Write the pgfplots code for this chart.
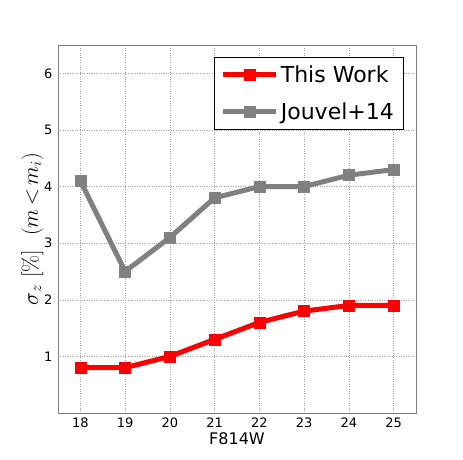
\RequirePackage{fix-cm}
\documentclass[border=0pt]{standalone}
\usepackage{pgfplots}
\pgfplotsset{compat=1.18}
\usepackage[no-math]{fontspec}
\setmainfont{DejaVu Sans}
\definecolor{jgray}{RGB}{128,128,128}

\begin{document}
\begin{tikzpicture}[x=1pt,y=1pt]
\begin{axis}[
    name=ax,
    at={(0,0)}, anchor=south west,
    width=358pt, height=368pt, scale only axis,
    xmin=17.5, xmax=25.5, ymin=0, ymax=6.5,
    xtick={18,...,25}, ytick={1,...,6},
    major tick length=0pt,
    axis line style={jgray, line width=0.9pt},
    grid=major,
    grid style={dotted, gray!75, line width=0.5pt},
    tick label style={font=\fontsize{13}{15}\selectfont, /pgf/number format/assume math mode=true},
    xticklabel style={yshift=-1pt},
    yticklabel style={xshift=-2pt},
    xlabel={F814W},
    xlabel style={font=\fontsize{16}{18}\selectfont, yshift=2pt},
    ylabel={$\sigma_z\ [\%]\ \ (m\,{<}\,m_i)$},
    ylabel style={font=\fontsize{22}{26}\selectfont, yshift=-6pt},
    legend style={at={(0.964,0.967)}, anchor=north east, draw=black, line width=0.6pt,
        font=\fontsize{22}{26}\selectfont, row sep=15pt, inner xsep=7pt, inner ysep=6pt,
        /tikz/every even column/.append style={column sep=18pt}},
    legend cell align=left,
    legend image code/.code={
        \draw[#1, mark repeat=2, mark phase=2] plot coordinates {(0pt,0pt) (26pt,0pt) (53pt,0pt)};
    },
]
\addplot[red, line width=5pt, mark=square*, mark size=5.5pt, mark options={line width=0.5pt}]
coordinates {(18,0.8) (19,0.8) (20,1.0) (21,1.3) (22,1.6) (23,1.8) (24,1.9) (25,1.9)};
\addplot[jgray, line width=5pt, mark=square*, mark size=5.5pt, mark options={line width=0.5pt}]
coordinates {(18,4.1) (19,2.5) (20,3.1) (21,3.8) (22,4.0) (23,4.0) (24,4.2) (25,4.3)};
\legend{This Work, Jouvel+14}
\end{axis}
\path (ax.south west) ++(-58,-46) rectangle ++(463,459);
\end{tikzpicture}
\end{document}
